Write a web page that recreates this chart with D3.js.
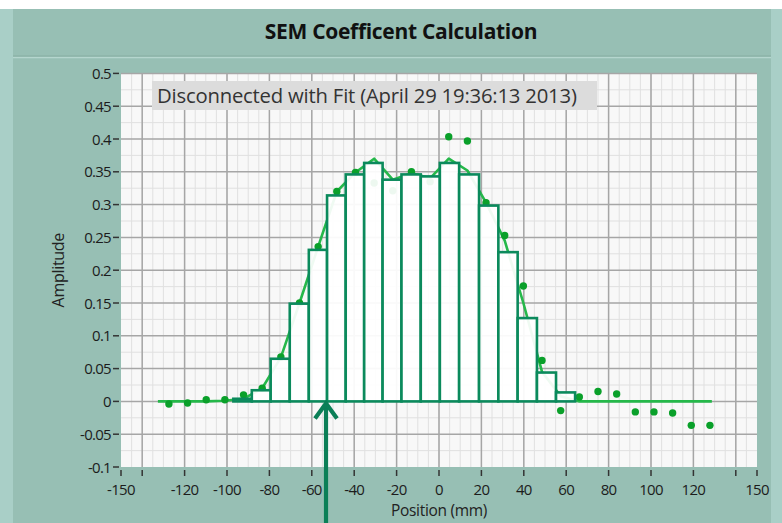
<!DOCTYPE html>
<html>
<head>
<meta charset="utf-8">
<script src="https://cdn.jsdelivr.net/npm/d3@7"></script>
<style>
  body { margin: 0; background: #fff; }
  svg { display: block; font-family: 'Open Sans', sans-serif; }
</style>
</head>
<body>
<div id="chart_area"></div>
<script>
// measured data (position in mm, amplitude)
const dotX = [-127.4, -118.6, -109.8, -101, -92.2, -83.4, -74.6, -65.8, -57, -48.2,
  -39.4, -30.6, -21.8, -13, -4.2, 4.6, 13.4, 22.2, 31, 39.8,
  48.6, 57.4, 66.2, 75, 83.8, 92.6, 101.4, 110.2, 119, 127.8];
const dotY = [-0.004, -0.0025, 0.0026, 0.0026, 0.010, 0.020, 0.0676, 0.150, 0.236, 0.320,
  0.349, 0.333, 0.321, 0.350, 0.335, 0.4035, 0.397, 0.303, 0.253, 0.176,
  0.0625, -0.014, 0.0067, 0.0152, 0.0113, -0.016, -0.016, -0.0177, -0.0365, -0.0365];

const binEdges = [-97, -88.3, -79.4, -70.4, -61.4, -52.8, -44, -35.3, -26.6, -17.7,
  -8.6, 0.4, 9.5, 18.9, 28, 37.1, 46.2, 55.2, 64.2];
const binValues = [0.004, 0.017, 0.065, 0.149, 0.231, 0.314, 0.346, 0.3635, 0.338,
  0.346, 0.343, 0.3635, 0.346, 0.2985, 0.2275, 0.127, 0.044, 0.0137];

const fitX = [-132.6, -127.4, -118.6, -109.8, -101, -92.2, -83.4, -74.6, -65.8, -57, -48.2,
  -39.4, -30.6, -21.8, -13, -4.2, 4.6, 13.4, 22.2, 31, 39.8,
  48.6, 57.4, 66.2, 75, 83.8, 92.6, 101.4, 110.2, 119, 127.8, 128.7];
const fitY = [0, 0, 0, 0, 0.001, 0.004, 0.020, 0.067, 0.150, 0.236, 0.320,
  0.349, 0.370, 0.338, 0.348, 0.340, 0.370, 0.352, 0.303, 0.245, 0.150,
  0.045, 0.008, 0, 0, 0, 0, 0, 0, 0, 0, 0];

const xTicks = [-150, -140, -120, -100, -80, -60, -40, -20, 0, 20, 40, 60, 80, 100, 120, 140, 150];
const xTickLabels = ['-150', '', '-120', '-100', '-80', '-60', '-40', '-20', '0', '20', '40', '60', '80', '100', '120', '', '150'];
const yTicks = [-0.1, -0.05, 0, 0.05, 0.1, 0.15, 0.2, 0.25, 0.3, 0.35, 0.4, 0.45, 0.5];
const yTickLabels = ['-0.1', '-0.05', '0', '0.05', '0.1', '0.15', '0.2', '0.25', '0.3', '0.35', '0.4', '0.45', '0.5'];
const markerX = -53.3;

const W = 782, H = 523;
const plot = { left: 121, right: 757, top: 73.4, bottom: 467 };

const x = d3.scaleLinear().domain([-150, 150]).range([plot.left, plot.right]);
const y = d3.scaleLinear().domain([-0.1, 0.5]).range([plot.bottom, plot.top]);

const svg = d3.select('#chart_area').append('svg')
  .attr('width', W).attr('height', H);

// panel background
svg.append('rect').attr('width', W).attr('height', H).attr('fill', '#97bfb4');
svg.append('rect').attr('x', 0).attr('y', 0).attr('width', W).attr('height', 9).attr('fill', '#fff');
svg.append('rect').attr('x', 0).attr('y', 9).attr('width', 13).attr('height', H - 9).attr('fill', '#a9cfc7');
svg.append('rect').attr('x', 771).attr('y', 9).attr('width', 11).attr('height', H - 9).attr('fill', '#a9cfc7');
svg.append('line').attr('x1', 13).attr('x2', 771).attr('y1', 57.5).attr('y2', 57.5)
  .attr('stroke', '#b5d6ce').attr('stroke-width', 1.5);
svg.append('line').attr('x1', 13).attr('x2', 771).attr('y1', 56).attr('y2', 56)
  .attr('stroke', '#86ada2').attr('stroke-width', 1);

// title
svg.append('text').attr('x', 401).attr('y', 39)
  .attr('text-anchor', 'middle').attr('font-weight', 'bold').attr('font-size', 21)
  .attr('letter-spacing', -0.3)
  .attr('fill', '#111').text('SEM Coefficent Calculation');

// plot area
svg.append('rect').attr('x', plot.left).attr('y', plot.top)
  .attr('width', plot.right - plot.left).attr('height', plot.bottom - plot.top)
  .attr('fill', '#f8f8f8');

const grid = svg.append('g');
// minor grid
grid.selectAll('line.vminor').data(d3.range(-145, 150, 5)).enter().append('line')
  .attr('x1', d => x(d)).attr('x2', d => x(d)).attr('y1', plot.top).attr('y2', plot.bottom)
  .attr('stroke', '#e0e0e0').attr('stroke-width', 1);
grid.selectAll('line.hminor').data(d3.range(-0.075, 0.5, 0.05)).enter().append('line')
  .attr('x1', plot.left).attr('x2', plot.right).attr('y1', d => y(d)).attr('y2', d => y(d))
  .attr('stroke', '#e0e0e0').attr('stroke-width', 1);
// major grid
grid.selectAll('line.vmajor').data(xTicks.filter(d => d > -150 && d < 150)).enter().append('line')
  .attr('x1', d => x(d)).attr('x2', d => x(d)).attr('y1', plot.top).attr('y2', plot.bottom)
  .attr('stroke', '#a6a6a6').attr('stroke-width', 1.5);
grid.selectAll('line.hmajor').data(yTicks.filter(d => d > -0.1)).enter().append('line')
  .attr('x1', plot.left).attr('x2', plot.right).attr('y1', d => y(d)).attr('y2', d => y(d))
  .attr('stroke', '#a6a6a6').attr('stroke-width', 1.5);

// legend-like label box
svg.append('rect').attr('x', 152).attr('y', 81).attr('width', 445).attr('height', 29)
  .attr('fill', '#dcdcdc');
svg.append('text').attr('x', 157).attr('y', 103).attr('font-size', 20.3)
  .attr('letter-spacing', -0.2)
  .attr('fill', '#333').text('Disconnected with Fit (April 29 19:36:13 2013)');

// fit line
const line = d3.line().x((d, i) => x(fitX[i])).y(d => y(d));
svg.append('path').datum(fitY).attr('d', line)
  .attr('fill', 'none').attr('stroke', '#25b84a').attr('stroke-width', 2.6)
  .attr('stroke-linejoin', 'round');

// scatter points
svg.selectAll('circle.pt').data(dotY).enter().append('circle')
  .attr('cx', (d, i) => x(dotX[i])).attr('cy', d => y(d)).attr('r', 3.7)
  .attr('fill', '#0aa02a');

// histogram bars
svg.selectAll('rect.bar').data(binValues).enter().append('rect')
  .attr('x', (d, i) => x(binEdges[i]))
  .attr('y', d => y(d))
  .attr('width', (d, i) => x(binEdges[i + 1]) - x(binEdges[i]))
  .attr('height', d => y(0) - y(d))
  .attr('fill', '#fff').attr('fill-opacity', 0.93)
  .attr('stroke', '#0b8a5c').attr('stroke-width', 2.6);

// axes ticks
const axes = svg.append('g').attr('fill', '#1c1c1c').attr('font-size', 15);
axes.selectAll('line.yt').data(yTicks).enter().append('line')
  .attr('x1', plot.left - 8).attr('x2', plot.left - 2).attr('y1', d => y(d)).attr('y2', d => y(d))
  .attr('stroke', '#333').attr('stroke-width', 1.5);
axes.selectAll('text.yl').data(yTicks).enter().append('text')
  .attr('x', plot.left - 10).attr('y', d => y(d) + 5.5).attr('text-anchor', 'end')
  .attr('letter-spacing', -0.7)
  .text((d, i) => yTickLabels[i]);
axes.selectAll('line.xt').data(xTicks).enter().append('line')
  .attr('x1', d => x(d)).attr('x2', d => x(d)).attr('y1', plot.bottom + 3).attr('y2', plot.bottom + 9)
  .attr('stroke', '#333').attr('stroke-width', 1.5);
axes.selectAll('text.xl').data(xTicks).enter().append('text')
  .attr('x', d => x(d)).attr('y', plot.bottom + 28).attr('text-anchor', 'middle')
  .attr('letter-spacing', -0.7)
  .text((d, i) => xTickLabels[i]);

// axis titles
svg.append('text').attr('x', (plot.left + plot.right) / 2).attr('y', 516)
  .attr('text-anchor', 'middle').attr('font-size', 15.5).attr('fill', '#222')
  .attr('letter-spacing', -0.3)
  .text('Position (mm)');
svg.append('text').attr('transform', 'translate(64,' + ((plot.top + plot.bottom) / 2) + ') rotate(-90)')
  .attr('text-anchor', 'middle').attr('font-size', 16).attr('fill', '#222')
  .attr('letter-spacing', -0.3)
  .text('Amplitude');

// position marker arrow
const ax = x(markerX);
svg.append('line').attr('x1', ax).attr('x2', ax).attr('y1', y(0) + 3).attr('y2', H)
  .attr('stroke', '#0b7f57').attr('stroke-width', 4.2);
svg.append('path')
  .attr('d', 'M' + (ax - 11) + ',' + (y(0) + 17) + 'L' + ax + ',' + (y(0) + 2) + 'L' + (ax + 11) + ',' + (y(0) + 17))
  .attr('fill', 'none').attr('stroke', '#0b7f57').attr('stroke-width', 4.2);
</script>
</body>
</html>
